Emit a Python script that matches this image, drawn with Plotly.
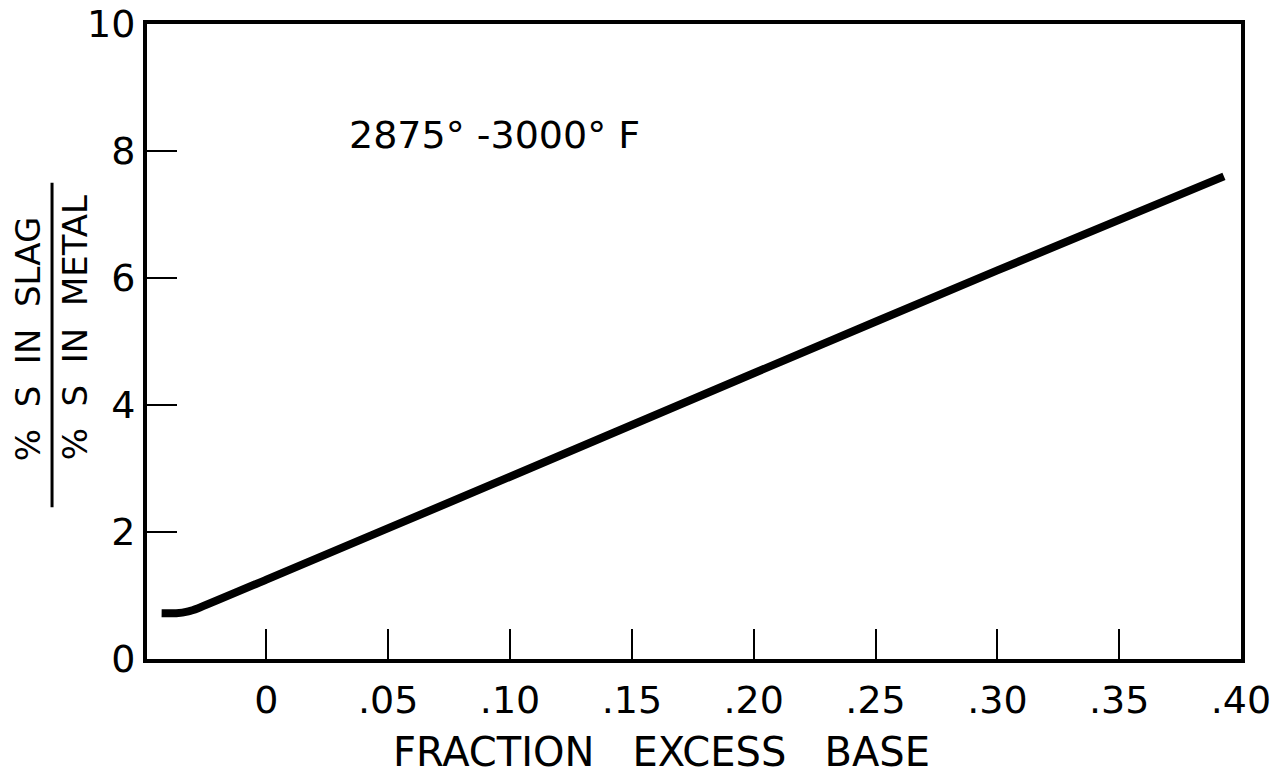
import plotly.graph_objects as go

# Data
excess_base = [-0.043, -0.037, -0.032, -0.028, 0.0, 0.10, 0.20, 0.30, 0.393]
s_ratio = [0.72, 0.72, 0.75, 0.80, 1.25, 2.87, 4.50, 6.12, 7.60]

x_tickvals = [0, 0.05, 0.10, 0.15, 0.20, 0.25, 0.30, 0.35, 0.40]
x_ticktext = ["0", ".05", ".10", ".15", ".20", ".25", ".30", ".35", ".40"]
y_tickvals = [0, 2, 4, 6, 8, 10]
y_ticktext = ["0", "2", "4", "6", "8", "10"]

FONT = "DejaVu Sans"

fig = go.Figure()
fig.add_trace(go.Scatter(
    x=excess_base, y=s_ratio, mode="lines",
    line=dict(color="black", width=8, shape="spline", smoothing=0.4),
    showlegend=False, hoverinfo="skip",
))

fig.update_layout(
    width=1272, height=782,
    margin=dict(l=147, r=31, t=24, b=123),
    paper_bgcolor="white", plot_bgcolor="white",
    font=dict(family=FONT, color="black", size=36),
    xaxis=dict(
        range=[-0.049, 0.40], tickvals=x_tickvals, ticktext=x_ticktext,
        showgrid=False, zeroline=False, showline=True, linewidth=4,
        linecolor="black", mirror=True, ticks="inside", ticklen=30,
        tickwidth=2, tickcolor="black", ticklabelstandoff=4,
        automargin=False,
        tickfont=dict(family=FONT, size=38, color="black"),
    ),
    yaxis=dict(
        range=[0, 10], tickvals=y_tickvals, ticktext=y_ticktext,
        showgrid=False, zeroline=False, showline=True, linewidth=4,
        linecolor="black", mirror=True, ticks="inside", ticklen=30,
        tickwidth=2, tickcolor="black", automargin=False,
        tickfont=dict(family=FONT, size=38, color="black"),
    ),
    annotations=[
        dict(text="2875° -3000° F", x=0.0935, y=8.25, xref="x", yref="y",
             showarrow=False, font=dict(family=FONT, size=38, color="black")),
        dict(text="FRACTION   EXCESS   BASE", x=0.4707, y=-0.1465,
             xref="paper", yref="paper", showarrow=False,
             xanchor="center", yanchor="middle",
             font=dict(family=FONT, size=40, color="black")),
        dict(text="%  S  IN  SLAG", x=-0.1088, y=0.309, xref="paper", yref="paper",
             showarrow=False, textangle=-90, xanchor="center", yanchor="bottom",
             font=dict(family=FONT, size=34, color="black")),
        dict(text="%  S  IN  METAL", x=-0.0658, y=0.309, xref="paper", yref="paper",
             showarrow=False, textangle=-90, xanchor="center", yanchor="bottom",
             font=dict(family=FONT, size=34, color="black")),
    ],
    shapes=[
        dict(type="line", xref="paper", yref="paper", x0=-0.0868, x1=-0.0868,
             y0=0.239, y1=0.75, line=dict(color="black", width=3)),
    ],
)

fig.write_html("out.html")
